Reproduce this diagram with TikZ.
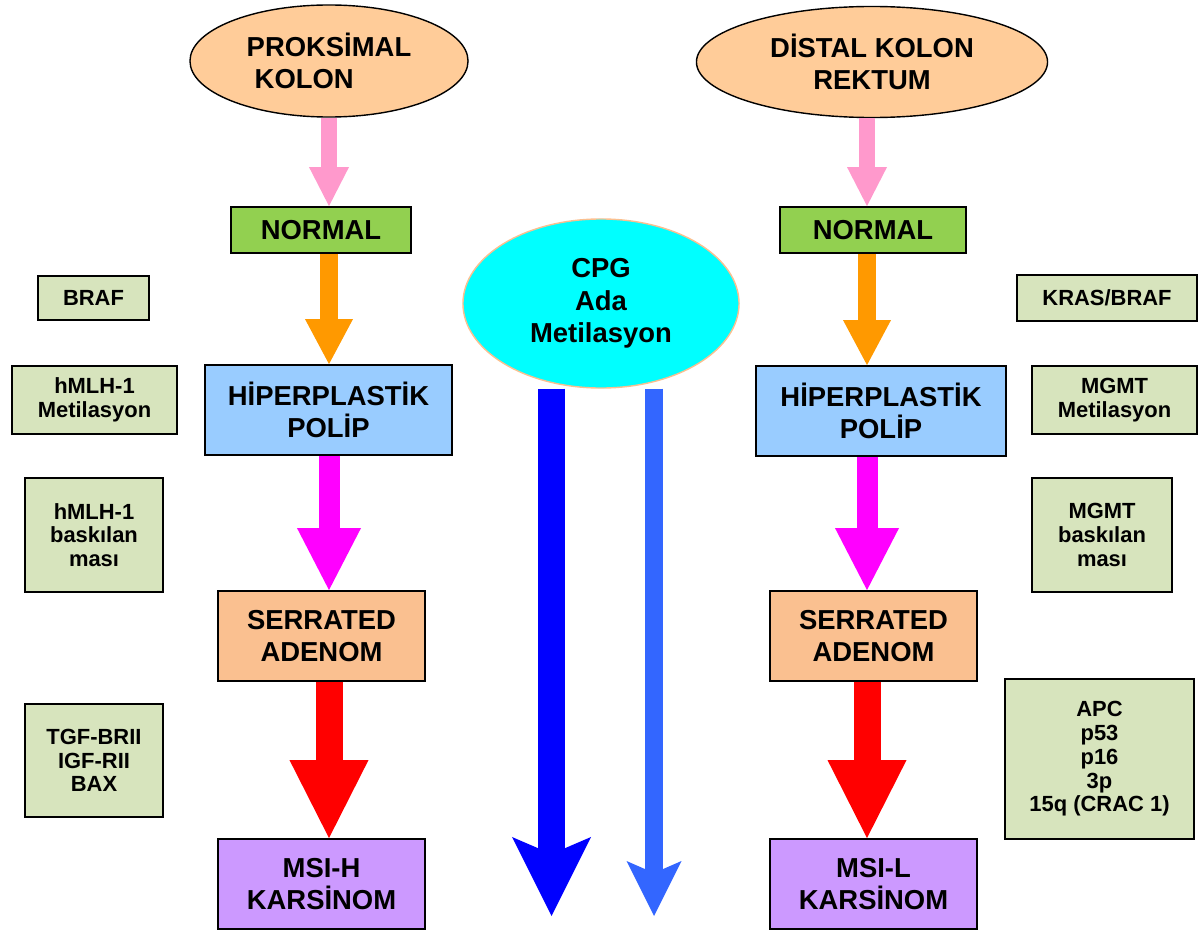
\documentclass[tikz,border=0pt]{standalone}
\usepackage{fontspec}
\setmainfont{Liberation Sans}
\usepackage{tikz}
\usetikzlibrary{arrows.meta,shapes.geometric}
\definecolor{peach}{HTML}{FFCC99}
\definecolor{peachLine}{HTML}{FAC090}
\definecolor{normalGreen}{HTML}{92D050}
\definecolor{polipBlue}{HTML}{99CCFF}
\definecolor{serratedTan}{HTML}{FAC090}
\definecolor{msiPurple}{HTML}{CC99FF}
\definecolor{geneGreen}{HTML}{D7E4BD}
\definecolor{arrPink}{HTML}{FF99CC}
\definecolor{arrOrange}{HTML}{FF9900}
\definecolor{arrMagenta}{HTML}{FF00FF}
\definecolor{arrRed}{HTML}{FF0000}
\definecolor{arrBlue}{HTML}{0000FF}
\definecolor{arrSky}{HTML}{3366FF}
\definecolor{cpgCyan}{HTML}{00FFFF}

\begin{document}
\begin{tikzpicture}[
  x=0.025cm, y=-0.025cm,
  every node/.style={font=\fontsize{19.5}{23}\selectfont\bfseries, align=center, inner sep=0pt},
  region/.style={ellipse, draw=black, line width=1pt, fill=peach},
  stage/.style={rectangle, draw=black, line width=1.3pt},
  gene/.style={rectangle, draw=black, line width=1.1pt, fill=geneGreen,
               font=\fontsize{15.6}{16.9}\selectfont\bfseries},
  pinkflow/.style={draw=arrPink, line width=0.4cm,
                   -{Triangle[length=0.975cm, width=1cm, line width=0pt]}},
  orangeflow/.style={draw=arrOrange, line width=0.45cm,
                   -{Triangle[length=1.125cm, width=1.2cm, line width=0pt]}},
  magentaflow/.style={draw=arrMagenta, line width=0.525cm,
                   -{Triangle[length=1.55cm, width=1.6cm, line width=0pt]}},
  redflow/.style={draw=arrRed, line width=0.675cm,
                   -{Triangle[length=1.95cm, width=1.975cm, line width=0pt]}},
  blueflow/.style={draw=arrBlue, line width=0.675cm,
                   -{Stealth[length=1.975cm, width=1.975cm, inset=0.425cm, line width=0pt]}},
  skyflow/.style={draw=arrSky, line width=0.45cm,
                   -{Stealth[length=1.375cm, width=1.375cm, inset=0.3cm, line width=0pt]}}
]
  \useasboundingbox (0,0) rectangle (1202,933);

  % left column
  \node[region, minimum width=6.95cm, minimum height=2.8cm, align=left] (prox) at (329,61) {PROKSİMAL\\\hspace*{0.2cm}KOLON};
  \node[stage, fill=normalGreen, minimum width=4.5cm, minimum height=1.15cm] (normL) at (321,230) {NORMAL};
  \node[stage, fill=polipBlue, minimum width=6.175cm, minimum height=2.25cm] (hypL) at (328.5,410) {HİPERPLASTİK\\POLİP};
  \node[stage, fill=serratedTan, minimum width=5.175cm, minimum height=2.25cm] (serL) at (321.5,636) {SERRATED\\ADENOM};
  \node[stage, fill=msiPurple, minimum width=5.175cm, minimum height=2.25cm] (msiL) at (321.5,884) {MSI-H\\KARSİNOM};
  \coordinate (axL) at (329,117);

  % right column
  \node[region, minimum width=8.775cm, minimum height=2.775cm] (dist) at (872,62) {DİSTAL KOLON\\REKTUM};
  \node[stage, fill=normalGreen, minimum width=4.65cm, minimum height=1.15cm] (normR) at (873,230) {NORMAL};
  \node[stage, fill=polipBlue, minimum width=6.25cm, minimum height=2.25cm] (hypR) at (881,411) {HİPERPLASTİK\\POLİP};
  \node[stage, fill=serratedTan, minimum width=5.175cm, minimum height=2.25cm] (serR) at (873.5,636) {SERRATED\\ADENOM};
  \node[stage, fill=msiPurple, minimum width=5.175cm, minimum height=2.25cm] (msiR) at (873.5,884) {MSI-L\\KARSİNOM};
  \coordinate (axR) at (867,117);

  % middle
  \node[ellipse, draw=peachLine, line width=1pt, fill=cpgCyan, minimum width=6.9cm, minimum height=4.225cm] (cpg) at (601,303.5) {CPG\\Ada\\Metilasyon};
  \coordinate (blueEnd) at (551.5,916);
  \coordinate (skyEnd) at (654,916);

  % gene boxes
  \node[gene, minimum width=2.775cm, minimum height=1.1cm] (braf) at (93.5,298) {BRAF};
  \node[gene, minimum width=4.125cm, minimum height=1.7cm] (mlhMet) at (94.5,400) {hMLH-1\\Metilasyon};
  \node[gene, minimum width=3.45cm, minimum height=2.85cm] (mlhBask) at (94,535) {hMLH-1\\baskılan\\ması};
  \node[gene, minimum width=3.45cm, minimum height=2.825cm] (tgf) at (94,760.5) {TGF-BRII\\IGF-RII\\BAX};
  \node[gene, minimum width=4.5cm, minimum height=1.15cm] (kras) at (1107,298) {KRAS/BRAF};
  \node[gene, minimum width=4.125cm, minimum height=1.7cm] (mgmtMet) at (1114.5,400) {MGMT\\Metilasyon};
  \node[gene, minimum width=3.5cm, minimum height=2.85cm] (mgmtBask) at (1102,535) {MGMT\\baskılan\\ması};
  \node[gene, minimum width=4.725cm, minimum height=4cm] (apc) at (1099.5,759) {APC\\p53\\p16\\3p\\15q (CRAC 1)};

  % flow arrows
  \draw[pinkflow] (axL |- prox.south) -- (axL |- normL.north);
  \draw[orangeflow] (axL |- normL.south) -- (axL |- hypL.north);
  \draw[magentaflow] (axL |- hypL.south) -- (axL |- serL.north);
  \draw[redflow] (axL |- serL.south) -- (axL |- msiL.north);

  \draw[pinkflow] (axR |- dist.south) -- (axR |- normR.north);
  \draw[orangeflow] (axR |- normR.south) -- (axR |- hypR.north);
  \draw[magentaflow] (axR |- hypR.south) -- (axR |- serR.north);
  \draw[redflow] (axR |- serR.south) -- (axR |- msiR.north);

  \draw[blueflow] (blueEnd |- cpg.south) -- (blueEnd);
  \draw[skyflow] (skyEnd |- cpg.south) -- (skyEnd);
\end{tikzpicture}
\end{document}
